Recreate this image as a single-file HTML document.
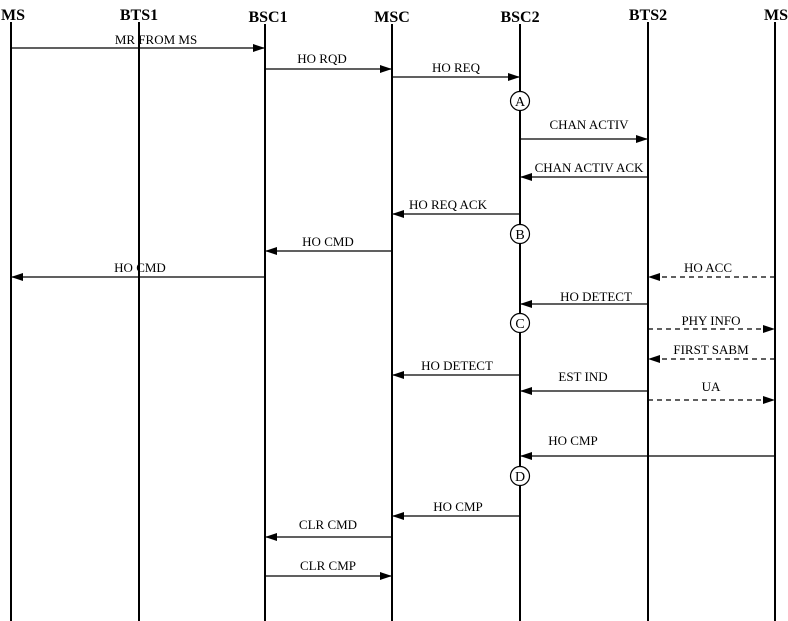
<!DOCTYPE html>
<html><head><meta charset="utf-8"><style>html,body{margin:0;padding:0;background:#fff}svg{display:block}</style></head>
<body>
<svg width="788" height="621" viewBox="0 0 788 621" xmlns="http://www.w3.org/2000/svg" font-family="Liberation Serif, serif">
<defs>
<marker id="a" markerWidth="12" markerHeight="8" refX="12" refY="4" orient="auto" markerUnits="userSpaceOnUse"><path d="M0,0 L12,4 L0,8 z" fill="#000"/></marker>
</defs>
<g font-weight="bold" font-size="16" text-anchor="middle" fill="#000">
<text x="13" y="20">MS</text><text x="139" y="20">BTS1</text><text x="268" y="22">BSC1</text><text x="392" y="22">MSC</text><text x="520" y="22">BSC2</text><text x="648" y="20">BTS2</text><text x="776" y="20">MS</text>
</g>
<g stroke="#000" stroke-width="2">
<line x1="11" y1="22" x2="11" y2="621"/><line x1="139" y1="22" x2="139" y2="621"/><line x1="265" y1="24" x2="265" y2="621"/><line x1="392" y1="24" x2="392" y2="621"/><line x1="520" y1="24" x2="520" y2="621"/><line x1="648" y1="22" x2="648" y2="621"/><line x1="775" y1="22" x2="775" y2="621"/>
</g>
<g stroke="#000" stroke-width="1.3" marker-end="url(#a)">
<line x1="11" y1="48" x2="265" y2="48"/>
<line x1="265" y1="69" x2="392" y2="69"/>
<line x1="392" y1="77" x2="520" y2="77"/>
<line x1="520" y1="139" x2="648" y2="139"/>
<line x1="648" y1="177" x2="520" y2="177"/>
<line x1="520" y1="214" x2="392" y2="214"/>
<line x1="392" y1="251" x2="265" y2="251"/>
<line x1="265" y1="277" x2="11" y2="277"/>
<line x1="775" y1="277" x2="648" y2="277" stroke-dasharray="5,4"/>
<line x1="648" y1="304" x2="520" y2="304"/>
<line x1="648" y1="329" x2="775" y2="329" stroke-dasharray="5,4"/>
<line x1="775" y1="359" x2="648" y2="359" stroke-dasharray="5,4"/>
<line x1="520" y1="375" x2="392" y2="375"/>
<line x1="648" y1="391" x2="520" y2="391"/>
<line x1="648" y1="400" x2="775" y2="400" stroke-dasharray="5,4"/>
<line x1="775" y1="456" x2="520" y2="456"/>
<line x1="520" y1="516" x2="392" y2="516"/>
<line x1="392" y1="537" x2="265" y2="537"/>
<line x1="265" y1="576" x2="392" y2="576"/>
</g>
<g font-size="13" text-anchor="middle" fill="#000">
<text x="156" y="44">MR FROM MS</text>
<text x="322" y="63">HO RQD</text>
<text x="456" y="72">HO REQ</text>
<text x="589" y="129">CHAN ACTIV</text>
<text x="589" y="172">CHAN ACTIV ACK</text>
<text x="448" y="209">HO REQ ACK</text>
<text x="328" y="246">HO CMD</text>
<text x="140" y="272">HO CMD</text>
<text x="708" y="272">HO ACC</text>
<text x="596" y="301">HO DETECT</text>
<text x="711" y="325">PHY INFO</text>
<text x="711" y="354">FIRST SABM</text>
<text x="457" y="370">HO DETECT</text>
<text x="583" y="381">EST IND</text>
<text x="711" y="391">UA</text>
<text x="573" y="445">HO CMP</text>
<text x="458" y="511">HO CMP</text>
<text x="328" y="529">CLR CMD</text>
<text x="328" y="570">CLR CMP</text>
</g>
<g stroke="#000" stroke-width="1.2" fill="#fff">
<circle cx="520" cy="101" r="9.5"/><circle cx="520" cy="234" r="9.5"/><circle cx="520" cy="323" r="9.5"/><circle cx="520" cy="476" r="9.5"/>
</g>
<g font-size="14" text-anchor="middle" fill="#000">
<text x="520" y="106">A</text><text x="520" y="239">B</text><text x="520" y="328">C</text><text x="520" y="481">D</text>
</g>
</svg>
</body></html>
